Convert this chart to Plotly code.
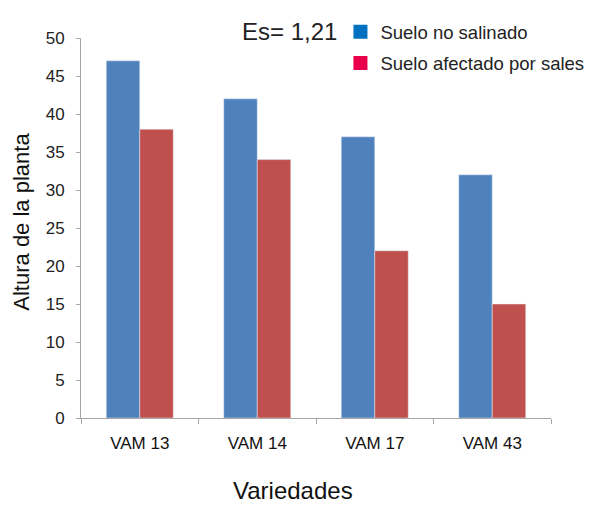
import plotly.graph_objects as go

variedades = ["VAM 13", "VAM 14", "VAM 17", "VAM 43"]
no_salinado = [47, 42, 37, 32]
afectado = [38, 34, 22, 15]

y_ticks = [0, 5, 10, 15, 20, 25, 30, 35, 40, 45, 50]

azul_barra = "#4F81BD"
rojo_barra = "#C0504D"
azul_leyenda = "#0070C0"
rojo_leyenda = "#E8004C"

fig = go.Figure()

fig.add_trace(go.Bar(x=variedades, y=no_salinado, marker_color=azul_barra,
                     showlegend=False, name="Suelo no salinado"))
fig.add_trace(go.Bar(x=variedades, y=afectado, marker_color=rojo_barra,
                     showlegend=False, name="Suelo afectado por sales"))

# legend entries use the brighter colours of the original
fig.add_trace(go.Scatter(x=[None], y=[None], mode="markers", name="Suelo no salinado",
                         legendgroup="a",
                         marker=dict(symbol="square", size=14, color=azul_leyenda)))
fig.add_trace(go.Scatter(x=[None], y=[None], mode="markers", name="Suelo afectado por sales",
                         legendgroup="b",
                         marker=dict(symbol="square", size=14, color=rojo_leyenda)))

fig.add_annotation(text="Es= 1,21", xref="paper", yref="paper", x=0.443, y=1.018,
                   xanchor="center", yanchor="middle",
                   showarrow=False, font=dict(size=24, color="#222222"))

# axis titles placed as annotations (the original is not centred on the plot)
fig.add_annotation(text="Variedades", xref="paper", yref="paper", x=0.451, y=-0.192,
                   xanchor="center", yanchor="middle",
                   showarrow=False, font=dict(size=24, color="#111111"))
fig.add_annotation(text="Altura de la planta", xref="paper", yref="paper", x=-0.126, y=0.516,
                   xanchor="center", yanchor="middle", textangle=-90,
                   showarrow=False, font=dict(size=22, color="#111111"))

# page body adds 8px, margins are offset to compensate
fig.update_layout(
    width=599, height=509,
    margin=dict(l=73, r=56, t=30, b=99, autoexpand=False),
    paper_bgcolor="white", plot_bgcolor="white",
    font=dict(family="Liberation Sans, Arial, sans-serif", color="#222222"),
    barmode="group", bargap=0.43, bargroupgap=0,
    legend=dict(x=0.552, y=1.065, xanchor="left", yanchor="top",
                font=dict(size=18.5, color="#222222"), bgcolor="rgba(0,0,0,0)",
                traceorder="grouped", tracegroupgap=4, itemwidth=30),
)

fig.update_xaxes(
    showline=True, linecolor="#A6A6A6", linewidth=1,
    ticks="outside", tickson="boundaries", ticklen=5, tickcolor="#A6A6A6",
    tickfont=dict(size=17, color="#111111"), ticklabelstandoff=10,
    showgrid=False, zeroline=False,
)
fig.update_yaxes(
    range=[0, 50], tickvals=y_ticks,
    showline=True, linecolor="#A6A6A6", linewidth=1,
    ticks="outside", ticklen=4, tickcolor="#A6A6A6",
    tickfont=dict(size=17, color="#222222"), ticklabelstandoff=8,
    showgrid=False, zeroline=False,
)

fig.write_html("out.html")
